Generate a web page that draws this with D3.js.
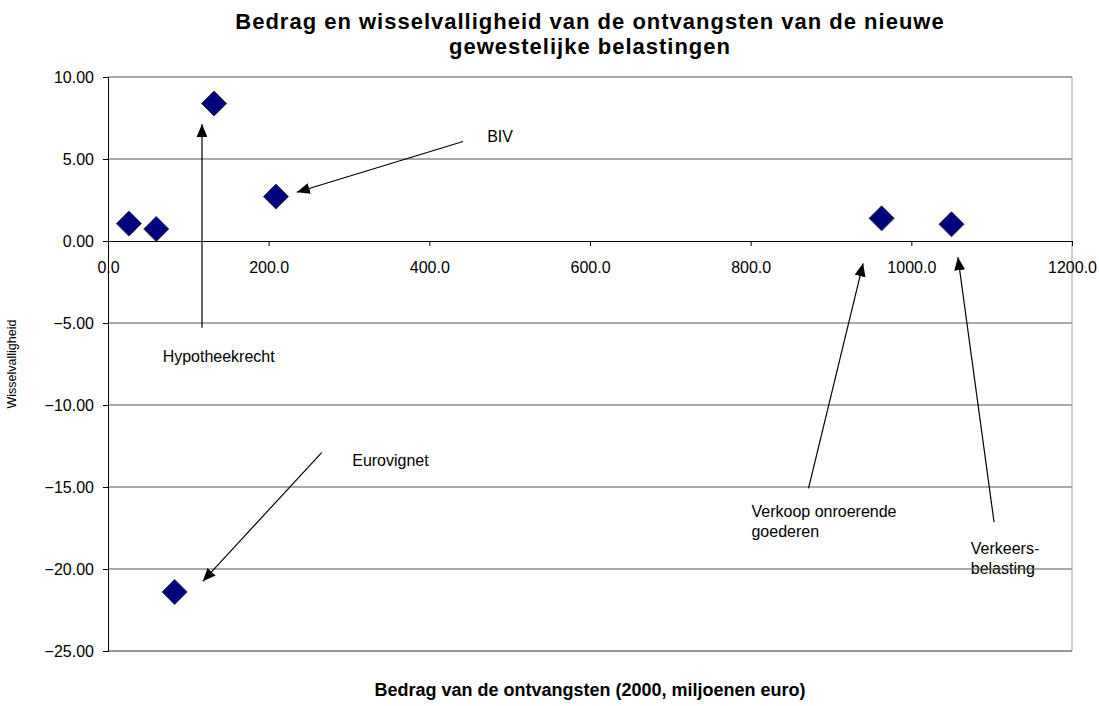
<!DOCTYPE html>
<html>
<head>
<meta charset="UTF-8">
<title>Bedrag en wisselvalligheid</title>
<script src="https://d3js.org/d3.v7.min.js"></script>
<style>
  body { margin: 0; background: #fff; }
  text { font-family: Arial, "Liberation Sans", sans-serif; }
</style>
</head>
<body>
<div id="chart"></div>
<script>
// data
var amounts = [26, 60, 132, 209, 963, 1050, 83];
var volatility = [1.06, 0.73, 8.38, 2.71, 1.38, 1.02, -21.4];

var xTicks = [0, 200, 400, 600, 800, 1000, 1200];
var yTicks = [10, 5, 0, -5, -10, -15, -20, -25];

// annotations: label lines, label anchor (data coords), arrow from -> to (data coords)
var noteLabels = [["BIV"], ["Hypotheekrecht"], ["Eurovignet"], ["Verkoop onroerende", "goederen"], ["Verkeers-", "belasting"]];
var noteLabelX = [472, 68, 304, 801, 1074];
var noteLabelY = [6.02, -7.4, -13.73, -16.85, -19.1];
var arrowFromX = [442, 117, 266, 872, 1103];
var arrowFromY = [6.07, -5.29, -12.9, -15.08, -17.15];
var arrowToX = [235, 117, 118, 940, 1058];
var arrowToY = [2.97, 7.12, -20.75, -1.36, -0.99];

var W = 1099, H = 706;
var margin = {top: 77, right: 27, bottom: 55, left: 108};
var width = W - margin.left - margin.right,
    height = H - margin.top - margin.bottom;

var svg = d3.select("#chart").append("svg")
    .attr("width", W).attr("height", H);

svg.append("defs").append("marker")
    .attr("id", "head")
    .attr("viewBox", "0 0 10 10")
    .attr("refX", 10).attr("refY", 5)
    .attr("markerWidth", 13).attr("markerHeight", 11)
    .attr("markerUnits", "userSpaceOnUse")
    .attr("orient", "auto")
    .attr("preserveAspectRatio", "none")
    .append("path").attr("d", "M0,0L10,5L0,10Z").attr("fill", "#000");

var g = svg.append("g")
    .attr("transform", "translate(" + margin.left + "," + margin.top + ")");

var x = d3.scaleLinear().domain([0, 1200]).range([0, width]);
var y = d3.scaleLinear().domain([-25, 10]).range([height, 0]);

// annotation labels (under the gridlines as in the original)
noteLabels.forEach(function(lines, i) {
    var t = g.append("text")
        .attr("x", x(noteLabelX[i]))
        .attr("y", y(noteLabelY[i]))
        .attr("font-size", 16)
        .attr("fill", "#000");
    lines.forEach(function(l, j) {
        t.append("tspan").attr("x", x(noteLabelX[i])).attr("dy", j === 0 ? 0 : 20).text(l);
    });
});

// gridlines
g.append("g").selectAll("line")
    .data(yTicks.filter(function(d) { return d !== 0 && d !== -25; }))
    .join("line")
    .attr("x1", 0).attr("x2", width)
    .attr("y1", function(d) { return y(d); }).attr("y2", function(d) { return y(d); })
    .attr("stroke", "#555").attr("stroke-width", 1);

// right border
g.append("line")
    .attr("x1", width).attr("x2", width).attr("y1", 0).attr("y2", height)
    .attr("stroke", "#a0a0a0");

// bottom line
g.append("line")
    .attr("x1", 0).attr("x2", width).attr("y1", height).attr("y2", height)
    .attr("stroke", "#333");

// y axis
var yAxis = g.append("g")
    .call(d3.axisLeft(y).tickValues(yTicks).tickFormat(d3.format(".2f")).tickSize(5).tickPadding(9));
yAxis.select(".domain").attr("stroke", "#000");
yAxis.selectAll("text").attr("font-size", 16).attr("font-family", "Arial, 'Liberation Sans', sans-serif");

// x axis crossing at 0
var xAxis = g.append("g")
    .attr("transform", "translate(0," + y(0) + ")")
    .call(d3.axisBottom(x).tickValues(xTicks).tickFormat(d3.format(".1f")).tickSize(5).tickSizeOuter(0).tickPadding(16));
xAxis.select(".domain").attr("stroke", "#000");
xAxis.selectAll("text").attr("font-size", 16).attr("font-family", "Arial, 'Liberation Sans', sans-serif");

// arrows
g.append("g").selectAll("line")
    .data(d3.range(arrowFromX.length))
    .join("line")
    .attr("x1", function(i) { return x(arrowFromX[i]); })
    .attr("y1", function(i) { return y(arrowFromY[i]); })
    .attr("x2", function(i) { return x(arrowToX[i]); })
    .attr("y2", function(i) { return y(arrowToY[i]); })
    .attr("stroke", "#000").attr("stroke-width", 1.2)
    .attr("marker-end", "url(#head)");

// points
g.append("g").selectAll("path")
    .data(d3.range(amounts.length))
    .join("path")
    .attr("transform", function(i) { return "translate(" + x(amounts[i]) + "," + y(volatility[i]) + ")"; })
    .attr("d", "M0,-12.5L12.5,0L0,12.5L-12.5,0Z")
    .attr("fill", "#000080")
    .attr("stroke", "#333")
    .attr("stroke-width", 1);

// titles
var title = svg.append("text")
    .attr("x", 590).attr("y", 29)
    .attr("text-anchor", "middle")
    .attr("font-size", 22).attr("font-weight", "bold")
    .attr("letter-spacing", 1);
title.append("tspan").attr("x", 590).text("Bedrag en wisselvalligheid van de ontvangsten van de nieuwe");
title.append("tspan").attr("x", 590).attr("dy", 25).text("gewestelijke belastingen");

svg.append("text")
    .attr("x", 590).attr("y", 696)
    .attr("text-anchor", "middle")
    .attr("font-size", 18).attr("font-weight", "bold")
    .text("Bedrag van de ontvangsten (2000, miljoenen euro)");

svg.append("text")
    .attr("transform", "translate(16," + (margin.top + height / 2) + ") rotate(-90)")
    .attr("text-anchor", "middle")
    .attr("font-size", 12.5)
    .text("Wisselvalligheid");
</script>
</body>
</html>
